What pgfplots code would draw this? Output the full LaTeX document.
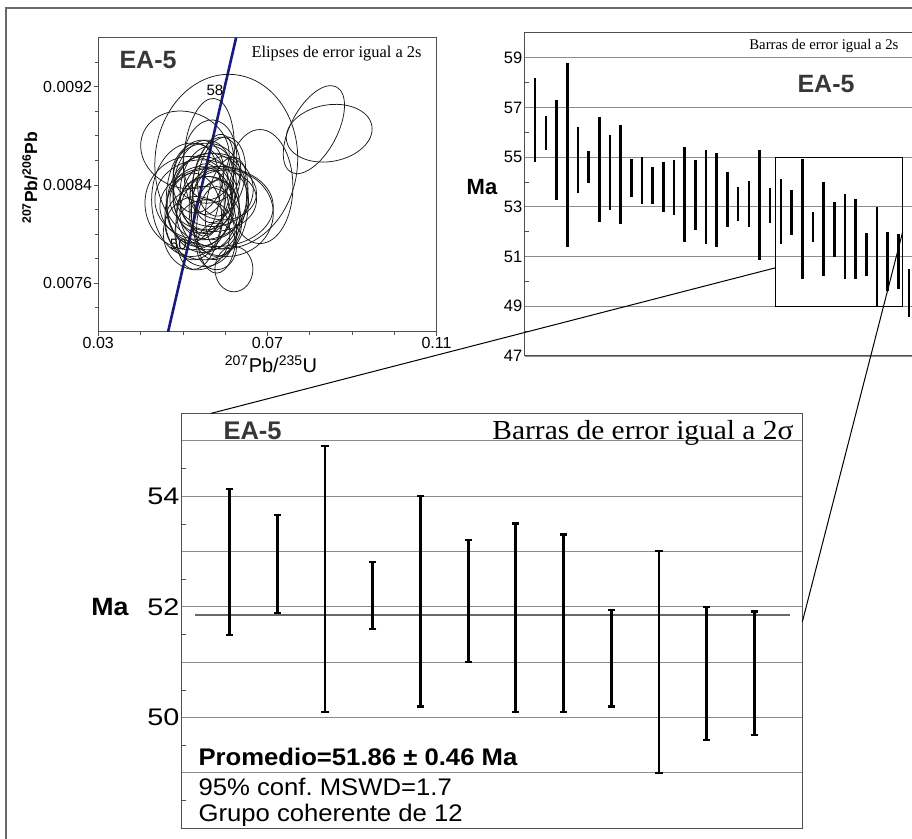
\documentclass[border=0pt]{standalone}
\usepackage{fontspec}
\setmainfont{Liberation Sans}
\newfontfamily\serif{Liberation Serif}
\newfontfamily\widesans{Liberation Sans}[FakeStretch=1.2]
\newfontfamily\notesans{Liberation Sans}[FakeStretch=1.07]
\newfontfamily\noteserif{Liberation Serif}[FakeStretch=1.07]
\usepackage{pgfplots}
\usepackage{pgfplotstable}
\pgfplotsset{compat=1.18}
\frenchspacing

\definecolor{gridgray}{RGB}{140,140,140}
\definecolor{framegray}{RGB}{80,80,80}
\definecolor{labelgray}{RGB}{55,55,55}
\definecolor{concordia}{RGB}{25,25,130}
\definecolor{meangray}{RGB}{105,105,105}

% error ellipse mark: semi-axes \ea, \eb (pt), tilt \et (deg), set per point
\pgfdeclareplotmark{errellipse}{%
  \pgfscope
  \pgftransformrotate{\et}%
  \pgfpathellipse{\pgfpointorigin}{\pgfpoint{\ea pt}{0pt}}{\pgfpoint{0pt}{\eb pt}}%
  \pgfusepathqstroke
  \endpgfscope}

% spot ages, all analyses (Ma): lower and upper end of each 2s bar
\pgfplotstableread{
x lo hi
1 54.79 58.19
2 55.30 56.65
3 53.29 57.29
4 51.38 58.80
5 53.58 56.20
6 53.96 55.26
7 52.39 56.61
8 52.88 55.91
9 52.31 56.31
10 53.40 54.94
11 53.10 55.01
12 53.10 54.59
13 52.78 54.81
14 52.68 54.90
15 51.58 55.41
16 52.08 54.90
17 51.50 55.30
18 51.39 55.19
19 52.19 54.39
20 52.44 53.81
21 52.19 54.03
22 50.87 55.30
23 52.37 53.78
24 51.50 54.13
25 51.89 53.67
26 50.10 54.91
27 51.60 52.81
28 50.20 54.00
29 51.00 53.21
30 50.10 53.51
31 50.10 53.31
32 50.20 51.94
33 49.00 53.01
34 49.60 52.00
35 49.69 51.92
36 48.58 50.51
}\spotages

% coherent group of 12 used for the weighted mean
\pgfplotstableread{
x lo hi
1 51.50 54.13
2 51.89 53.67
3 50.10 54.91
4 51.60 52.81
5 50.20 54.00
6 51.00 53.21
7 50.10 53.51
8 50.10 53.31
9 50.20 51.94
10 49.00 53.01
11 49.60 52.00
12 49.69 51.92
}\coherent

% error ellipses: centre (207Pb/235U, 206Pb/238U), semi-axes a, b (pt), tilt t (deg)
\pgfplotstableread{
cx cy a b t
0.06027 0.008590 71.3 87.3 -5
0.08100 0.008850 48.3 23.3 62
0.08462 0.008821 43.3 28.3 10
0.05049 0.008685 45.0 38.0 -20
0.05617 0.008631 25.0 58.3 -5
0.06208 0.007713 19.0 22.7 0
0.05168 0.008251 45.0 46.7 0
0.05798 0.008223 56.7 40.0 0
0.06823 0.008386 33.0 57.0 0
0.05483 0.008386 30.0 46.7 -8
0.05640 0.008305 36.7 43.3 0
0.05404 0.008223 33.3 40.0 -5
0.05798 0.008441 23.3 43.3 -10
0.05246 0.008332 26.7 50.0 -5
0.05601 0.008169 31.7 36.7 0
0.05719 0.008278 43.3 31.7 0
0.05365 0.008468 25.0 36.7 -10
0.05877 0.008223 28.3 50.0 -5
0.05522 0.008006 30.0 33.3 0
0.05483 0.008088 38.3 36.7 0
0.05680 0.008386 20.0 53.3 -12
0.05246 0.008142 28.3 43.3 0
0.05956 0.008332 33.3 26.7 0
0.05443 0.008278 46.7 40.0 0
0.05798 0.008115 23.3 40.0 -5
0.05562 0.008495 33.3 30.0 0
0.06035 0.008169 46.7 43.3 0
0.05601 0.008251 16.7 33.3 -10
0.05325 0.008006 33.3 36.7 0
0.05640 0.008604 26.7 40.0 -5
0.05798 0.008033 20.0 43.3 0
0.05207 0.008278 40.0 56.7 0
0.05719 0.008359 40.0 36.7 5
0.05404 0.008142 23.3 53.3 -8
0.05916 0.008468 23.3 40.0 -10
0.05798 0.007898 20.0 23.3 0
0.05562 0.008251 26.7 26.7 0
0.06035 0.008251 20.0 46.7 -10
0.05600 0.008360 28.0 44.0 -6
0.05480 0.008240 36.0 48.0 0
}\ellipses

\begin{document}
\begin{tikzpicture}[x=1pt,y=1pt]
\path[use as bounding box] (0pt,0pt) rectangle (912pt,838pt);
\clip (0pt,0pt) rectangle (912pt,838pt);

% outer frame
\draw[framegray!85, line width=1.2pt] (6pt,-2pt) -- (6pt,830pt) -- (914pt,830pt);

%---------------- concordia diagram ----------------
\begin{axis}[
  at={(98.3pt,506pt)}, anchor=south west, scale only axis,
  width=338.2pt, height=294.3pt,
  xmin=0.03, xmax=0.11, ymin=0.0072, ymax=0.0096,
  scaled x ticks=false, scaled y ticks=false,
  xtick={0.03,0.07,0.11}, xticklabels={0.03,0.07,0.11},
  minor xtick={0.04,0.05,0.06,0.08,0.09,0.10},
  ytick={0.0076,0.0084,0.0092}, yticklabels={0.0076,0.0084,0.0092},
  minor ytick={0.0074,0.0078,0.0080,0.0082,0.0086,0.0088,0.0090,0.0094},
  tick pos=left, tick align=outside,
  major tick length=4pt, minor tick length=3pt,
  every tick/.style={framegray, line width=0.6pt},
  axis line style={framegray, line width=1pt},
  ticklabel style={font=\fontsize{16}{18}\selectfont},
  yticklabel style={inner sep=2pt},
  xticklabel style={inner sep=1.5pt},
]
\addplot[scatter, only marks, mark=errellipse,
  scatter/use mapped color={draw=black!90},
  mark options={line width=0.75pt},
  visualization depends on={\thisrow{a}\as\ea},
  visualization depends on={\thisrow{b}\as\eb},
  visualization depends on={\thisrow{t}\as\et},
] table[x=cx, y=cy] {\ellipses};
\addplot[concordia, line width=2.6pt] coordinates {(0.0465,0.0072) (0.0626,0.0096)};
\node[font=\fontsize{15}{15}\selectfont] at (axis cs:0.05759,0.009168) {58};
\node[font=\fontsize{15}{15}\selectfont] at (axis cs:0.04892,0.007911) {50};
\end{axis}

%---------------- all spot ages ----------------
\begin{axis}[
  at={(524.5pt,482pt)}, anchor=south west, scale only axis,
  width=388.8pt, height=323pt,
  xmin=0, xmax=36.4, ymin=47, ymax=60,
  xtick=\empty,
  ytick={47,49,...,59}, yticklabels={47,49,51,53,55,57,59},
  minor ytick={48,50,...,58},
  ymajorgrids, major grid style={gridgray, line width=0.9pt},
  tick pos=left, tick align=inside,
  major tick length=0pt, minor tick length=4pt,
  minor tick style={framegray, line width=0.6pt},
  axis line style={framegray, line width=1pt},
  yticklabel style={font=\fontsize{16.5}{18}\selectfont, inner sep=2pt},
]
\addplot[draw=none, forget plot,
  error bars/.cd, y dir=both, y explicit, error mark=none,
  error bar style={draw=black, line width=2.6pt}]
  table[x=x, y expr={(\thisrow{lo}+\thisrow{hi})/2},
        y error expr={(\thisrow{hi}-\thisrow{lo})/2}] {\spotages};
\draw[black, line width=1.3pt] (axis cs:23.5,49) rectangle (axis cs:35.4,55);
\coordinate (zl) at (axis cs:23.5,50.55);
\coordinate (zr) at (axis cs:35.4,51.99);
\end{axis}

%---------------- weighted mean, coherent group ----------------
\begin{axis}[
  at={(181.7pt,9.7pt)}, anchor=south west, scale only axis,
  width=620.6pt, height=415pt,
  xmin=0, xmax=13, ymin=48, ymax=55.5,
  xtick=\empty,
  ytick={49,...,55}, yticklabels={,50,,52,,54,},
  minor ytick={48.5,49.5,...,54.5},
  ymajorgrids, major grid style={gridgray, line width=1pt},
  tick pos=left, tick align=inside,
  major tick length=0pt, minor tick length=4pt,
  minor tick style={framegray, line width=0.6pt},
  axis line style={framegray, line width=1.3pt},
  yticklabel style={font=\widesans\fontsize{24}{26}\selectfont, inner sep=2pt},
]
\addplot[meangray, line width=2.4pt] coordinates {(0.28,51.86) (12.74,51.86)};
\addplot[draw=none, forget plot,
  error bars/.cd, y dir=both, y explicit, error mark=-,
  error mark options={black, line width=2.2pt, mark size=3.6pt, rotate=90},
  error bar style={draw=black, line width=2.8pt}]
  table[x=x, y expr={(\thisrow{lo}+\thisrow{hi})/2},
        y error expr={(\thisrow{hi}-\thisrow{lo})/2}] {\coherent};
\coordinate (ll) at (axis cs:0.62,55.5);
\coordinate (lr) at (axis cs:13,51.73);
\end{axis}

% zoom connectors
\draw[black, line width=1pt] (zl) -- (ll);
\draw[black, line width=1pt] (zr) -- (lr);

% labels: concordia diagram
\node[anchor=west, font=\bfseries\fontsize{25}{25}\selectfont, labelgray] at (116pt,778pt) {EA-5};
\node[anchor=east, font=\serif\fontsize{16.4}{17}\selectfont] at (425pt,784pt) {Elipses de error igual a 2s};
\node[rotate=90, font=\bfseries\fontsize{17.5}{18}\selectfont] at (30pt,660pt) {\textsuperscript{207}Pb/\textsuperscript{206}Pb};
\node[font=\fontsize{20}{20}\selectfont] at (271pt,474pt) {\textsuperscript{207}Pb/\textsuperscript{235}U};

% labels: all spot ages
\node[font=\bfseries\fontsize{22}{22}\selectfont] at (482pt,651pt) {Ma};
\node[anchor=east, font=\serif\fontsize{14.8}{15}\selectfont] at (902pt,792pt) {Barras de error igual a 2s};
\node[font=\bfseries\fontsize{25}{25}\selectfont, labelgray] at (826pt,754pt) {EA-5};

% labels: weighted mean
\node[font=\notesans\bfseries\fontsize{25}{25}\selectfont] at (110pt,231pt) {Ma};
\node[anchor=west, font=\bfseries\fontsize{25.5}{26}\selectfont, labelgray] at (220pt,407pt) {EA-5};
\node[anchor=east, font=\noteserif\fontsize{27.5}{28}\selectfont] at (797pt,405pt) {Barras de error igual a 2σ};
\node[anchor=west, font=\notesans\bfseries\fontsize{24}{24}\selectfont] at (195pt,81.3pt) {Promedio=51.86 ± 0.46 Ma};
\node[anchor=west, font=\notesans\fontsize{24}{24}\selectfont] at (195pt,51.3pt) {95\% conf. MSWD=1.7};
\node[anchor=west, font=\notesans\fontsize{24}{24}\selectfont] at (195pt,23pt) {Grupo coherente de 12};
\end{tikzpicture}
\end{document}
